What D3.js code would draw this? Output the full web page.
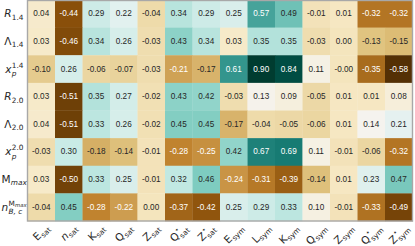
<!DOCTYPE html>
<html lang="en">
<head>
    <meta charset="UTF-8">
    <title>Correlation heatmap</title>
    <style>
        body { margin: 0; padding: 0; background: #fff; }
        svg { display: block; }
        .cell-text { font-family: "Liberation Sans", Arial, sans-serif; font-size: 8.2px; }
        .lbl { font-family: "DejaVu Sans", sans-serif; fill: #262626; }
    </style>
    <script src="https://d3js.org/d3.v7.min.js"></script>
</head>
<body>
    <svg id="chart" width="415" height="246"></svg>

    <script>
        // row tick labels (b = base, sub / sup = indices, i = italic flags)
        const rowLabels = [
            { b: "R", bi: true, sub: "1.4" },
            { b: "\u039B", sub: "1.4" },
            { b: "x", bi: true, sub: "p", subi: true, sup: "1.4" },
            { b: "R", bi: true, sub: "2.0" },
            { b: "\u039B", sub: "2.0" },
            { b: "x", bi: true, sub: "p", subi: true, sup: "2.0" },
            { b: "M", sub: "max", subi: true },
            { b: "n", bi: true, sub: "B, c", subi: true, sup: "M", supsub: "max" }
        ];

        // column tick labels
        const colLabels = [
            { b: "E", sub: "sat" },
            { b: "n", bi: true, sub: "sat" },
            { b: "K", sub: "sat" },
            { b: "Q", sub: "sat" },
            { b: "Z", sub: "sat" },
            { b: "Q", sub: "sat", sup: "\u22C6" },
            { b: "Z", sub: "sat", sup: "\u22C6" },
            { b: "E", sub: "sym" },
            { b: "L", sub: "sym" },
            { b: "K", sub: "sym" },
            { b: "Q", sub: "sym" },
            { b: "Z", sub: "sym" },
            { b: "Q", sub: "sym", sup: "\u22C6" },
            { b: "Z", sub: "sym", sup: "\u22C6" }
        ];

        const rowR14   = [0.04, -0.44, 0.29, 0.22, -0.04, 0.34, 0.29, 0.25, 0.57, 0.49, -0.01, 0.01, -0.32, -0.32];
        const rowL14   = [0.03, -0.46, 0.34, 0.26, -0.03, 0.43, 0.34, 0.03, 0.35, 0.35, -0.03, 0.00, -0.13, -0.15];
        const rowXp14  = [-0.10, 0.26, -0.06, -0.07, -0.03, -0.21, -0.17, 0.61, 0.90, 0.84, 0.11, -0.00, -0.35, -0.58];
        const rowR20   = [0.03, -0.51, 0.35, 0.27, -0.02, 0.43, 0.42, -0.03, 0.13, 0.09, -0.05, 0.01, 0.01, 0.08];
        const rowL20   = [0.04, -0.51, 0.33, 0.26, -0.02, 0.45, 0.45, -0.17, -0.04, -0.05, -0.06, 0.01, 0.14, 0.21];
        const rowXp20  = [-0.03, 0.30, -0.18, -0.14, -0.01, -0.28, -0.25, 0.42, 0.67, 0.69, 0.11, -0.01, -0.06, -0.32];
        const rowMmax  = [0.03, -0.50, 0.33, 0.25, -0.01, 0.32, 0.46, -0.24, -0.31, -0.39, -0.14, 0.01, 0.23, 0.47];
        const rowNbc   = [-0.04, 0.45, -0.28, -0.22, 0.00, -0.37, -0.42, 0.25, 0.29, 0.33, 0.10, -0.01, -0.33, -0.49];

        const rows = [rowR14, rowL14, rowXp14, rowR20, rowL20, rowXp20, rowMmax, rowNbc];

        const svg = d3.select("#chart");
        const mLeft = 27.5, mRight = 412.5, mTop = 0, mBottom = 221;

        const x = d3.scaleBand().domain(d3.range(colLabels.length)).range([mLeft, mRight]);
        const y = d3.scaleBand().domain(d3.range(rows.length)).range([mTop, mBottom]);

        // matplotlib-like BrBG, linear over the data range
        const flat = rows.flat();
        const vmin = d3.min(flat), vmax = d3.max(flat);
        const brbg = d3.schemeBrBG[11];
        const color = d3.scaleLinear()
            .domain(brbg.map((c, i) => vmin + (vmax - vmin) * i / 10))
            .range(brbg)
            .interpolate(d3.interpolateRgb);

        function lum(c) {
            const rgb = d3.rgb(c);
            const f = v => { v /= 255; return v <= 0.03928 ? v / 12.92 : Math.pow((v + 0.055) / 1.055, 2.4); };
            return 0.2126 * f(rgb.r) + 0.7152 * f(rgb.g) + 0.0722 * f(rgb.b);
        }

        const cells = [];
        rows.forEach((r, i) => r.forEach((v, j) => cells.push({ i, j, v })));

        svg.append("g").selectAll("rect")
            .data(cells)
            .enter().append("rect")
            .attr("x", d => x(d.j))
            .attr("y", d => y(d.i))
            .attr("width", x.bandwidth() + 0.3)
            .attr("height", y.bandwidth() + 0.3)
            .attr("fill", d => color(d.v));

        svg.append("g").selectAll("text")
            .data(cells)
            .enter().append("text")
            .attr("class", "cell-text")
            .attr("x", d => x(d.j) + x.bandwidth() / 2)
            .attr("y", d => y(d.i) + y.bandwidth() / 2)
            .attr("text-anchor", "middle")
            .attr("dominant-baseline", "central")
            .attr("fill", d => lum(color(d.v)) > 0.408 ? "#262626" : "#ffffff")
            .text(d => Object.is(d.v, -0) ? "-0.00" : d.v.toFixed(2));

        // frame
        svg.append("rect")
            .attr("x", mLeft).attr("y", mTop + 0.5)
            .attr("width", mRight - mLeft).attr("height", mBottom - mTop - 0.5)
            .attr("fill", "none")
            .attr("stroke", "#a8a8a8")
            .attr("stroke-width", 1.4);

        // draw label made of base + sub/sup, returns group and width
        function mathLabel(parent, spec, size) {
            const g = parent.append("g").attr("class", "lbl");
            const base = g.append("text")
                .attr("x", 0).attr("y", 0)
                .attr("font-size", size)
                .attr("font-style", spec.bi ? "italic" : "normal")
                .text(spec.b);
            const bw = base.node().getComputedTextLength();
            let w = bw;
            const small = size * 0.7;
            const subY = spec.sup ? size * 0.3 : size * 0.22;
            if (spec.sub) {
                const t = g.append("text")
                    .attr("x", bw + 0.3).attr("y", subY)
                    .attr("font-size", small)
                    .attr("font-style", spec.subi ? "italic" : "normal")
                    .text(spec.sub);
                w = Math.max(w, bw + 0.3 + t.node().getComputedTextLength());
            }
            if (spec.sup) {
                const t = g.append("text")
                    .attr("x", bw + 0.3).attr("y", -size * 0.48)
                    .attr("font-size", small)
                    .attr("font-style", spec.supi ? "italic" : "normal")
                    .text(spec.sup);
                let sw = t.node().getComputedTextLength();
                if (spec.supsub) {
                    const t2 = g.append("text")
                        .attr("x", bw + 0.3 + sw + 0.2).attr("y", -size * 0.36)
                        .attr("font-size", small * 0.72)
                        .attr("font-style", "italic")
                        .text(spec.supsub);
                    sw += 0.2 + t2.node().getComputedTextLength();
                }
                w = Math.max(w, bw + 0.3 + sw);
            }
            return { g, w };
        }

        // row labels
        const rowG = svg.append("g");
        rowLabels.forEach((spec, i) => {
            const { g, w } = mathLabel(rowG, spec, 10.5);
            const cy = y(i) + y.bandwidth() / 2 + 3.5;
            g.attr("transform", `translate(${Math.max(23.5 - w, 1.5)},${cy})`);
        });

        // column labels, rotated 45 degrees, centred under each column
        const colG = svg.append("g");
        colLabels.forEach((spec, j) => {
            const { g, w } = mathLabel(colG, spec, 10.5);
            const h = 10;
            const half = (w + h) / 2 * Math.SQRT1_2;
            const cx = x(j) + x.bandwidth() / 2;
            const cy = mBottom + 1.5 + half;
            g.attr("transform", `translate(${cx},${cy}) rotate(-45) translate(${-w / 2},3.5)`);
        });
    </script>
</body>
</html>
